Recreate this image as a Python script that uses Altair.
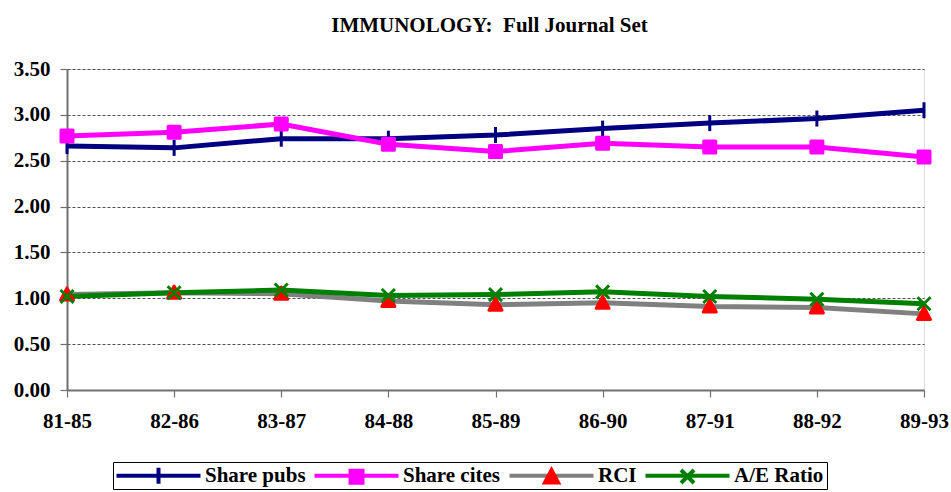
import altair as alt
import pandas as pd

periods = ["81-85", "82-86", "83-87", "84-88", "85-89", "86-90", "87-91", "88-92", "89-93"]
share_pubs = [2.66, 2.64, 2.74, 2.74, 2.78, 2.85, 2.91, 2.96, 3.05]
share_cites = [2.77, 2.81, 2.90, 2.68, 2.60, 2.69, 2.65, 2.65, 2.54]
rci = [1.04, 1.06, 1.05, 0.97, 0.93, 0.95, 0.91, 0.90, 0.83]
ae_ratio = [1.02, 1.06, 1.09, 1.03, 1.04, 1.07, 1.02, 0.99, 0.94]

series_names = ["Share pubs", "Share cites", "RCI", "A/E Ratio"]
line_colors = ["#000080", "#FF00FF", "#808080", "#008000"]
marker_colors = ["#000080", "#FF00FF", "#FF0000", "#008000"]
# marker glyphs (the leading moves only widen the legend symbol bounds)
EXT = "M-8.4,0M8.4,0"
marker_shapes = [
    EXT + "M0,-1.6L0,1.6",
    EXT + "M-1.2,-1.2L1.2,-1.2L1.2,1.2L-1.2,1.2Z",
    EXT + "M0,-1.35L1.3,1.1L-1.3,1.1Z",
    EXT + "M-1.3,-1.3L1.3,1.3M-1.3,1.3L1.3,-1.3",
]
legend_line = "M-8.4,0L8.4,0"

rows = []
for name, vals in zip(series_names, [share_pubs, share_cites, rci, ae_ratio]):
    for p, v in zip(periods, vals):
        rows.append({"period": p, "series": name, "series_m": name, "value": v})
df = pd.DataFrame(rows)

FONT = "Liberation Serif"
SYM = 100

x = alt.X("period:N", sort=periods, title=None,
          scale=alt.Scale(type="point", padding=0),
          axis=alt.Axis(labelAngle=0, labelFont=FONT, labelFontWeight="bold",
                        labelFontSize=21, labelColor="black", labelPadding=13,
                        tickSize=7, tickColor="#707070", tickWidth=1.2,
                        domainColor="#707070", domainWidth=2, grid=False))
y = alt.Y("value:Q", title=None,
          scale=alt.Scale(domain=[0, 3.5], nice=False, zero=True),
          axis=alt.Axis(values=[0, 0.5, 1, 1.5, 2, 2.5, 3, 3.5], format=".2f",
                        labelFont=FONT, labelFontWeight="bold", labelFontSize=21,
                        labelColor="black", labelPadding=10,
                        tickSize=7, tickColor="#707070", tickWidth=1.2,
                        domainColor="#707070", domainWidth=2,
                        grid=True, gridColor="#505050", gridDash=[3, 2], gridWidth=1))

legend_common = dict(orient="none", legendX=46, legendY=393, direction="horizontal",
                     title=None, symbolSize=SYM, symbolStrokeWidth=4,
                     symbolOffset=32,
                     labelFont=FONT, labelFontWeight="bold", labelFontSize=21,
                     labelColor="black", labelOffset=36, columnPadding=0,
                     padding=3, symbolOpacity=1)

# line legend (domain from data, sorted) - kept separate from the marker legend
lines = alt.Chart(df).mark_line(strokeWidth=5, strokeJoin="round").encode(
    x=x, y=y,
    stroke=alt.Stroke("series:N", sort=series_names,
                      scale=alt.Scale(range=line_colors),
                      legend=alt.Legend(symbolType=legend_line, strokeColor="black",
                                        **legend_common)),
    detail="series:N",
)

# marker legend (explicit domain, merged across color/fill/shape)
marker_legend = alt.Legend(labelOpacity=0, **legend_common)
points = alt.Chart(df).mark_point(filled=False, size=SYM, strokeWidth=3,
                                  opacity=1, strokeJoin="round").encode(
    x=x, y=y,
    color=alt.Color("series_m:N",
                    scale=alt.Scale(domain=series_names, range=marker_colors),
                    legend=marker_legend),
    fill=alt.Fill("series_m:N",
                  scale=alt.Scale(domain=series_names, range=marker_colors),
                  legend=marker_legend),
    shape=alt.Shape("series_m:N",
                    scale=alt.Scale(domain=series_names, range=marker_shapes),
                    legend=marker_legend),
)

chart = alt.layer(lines, points).properties(
    width=857, height=321,
    title=alt.TitleParams("IMMUNOLOGY:\u00a0 Full Journal Set", font=FONT,
                          fontSize=21, fontWeight="bold", color="black",
                          anchor="middle", frame="group", baseline="alphabetic",
                          offset=5, dx=-6),
    autosize=alt.AutoSizeParams(type="none"),
    padding={"left": 67, "top": 69, "right": 27, "bottom": 102},
).configure_view(stroke=None).configure(background="white")

chart.save("out.html", embed_options={"renderer": "svg", "actions": False})
